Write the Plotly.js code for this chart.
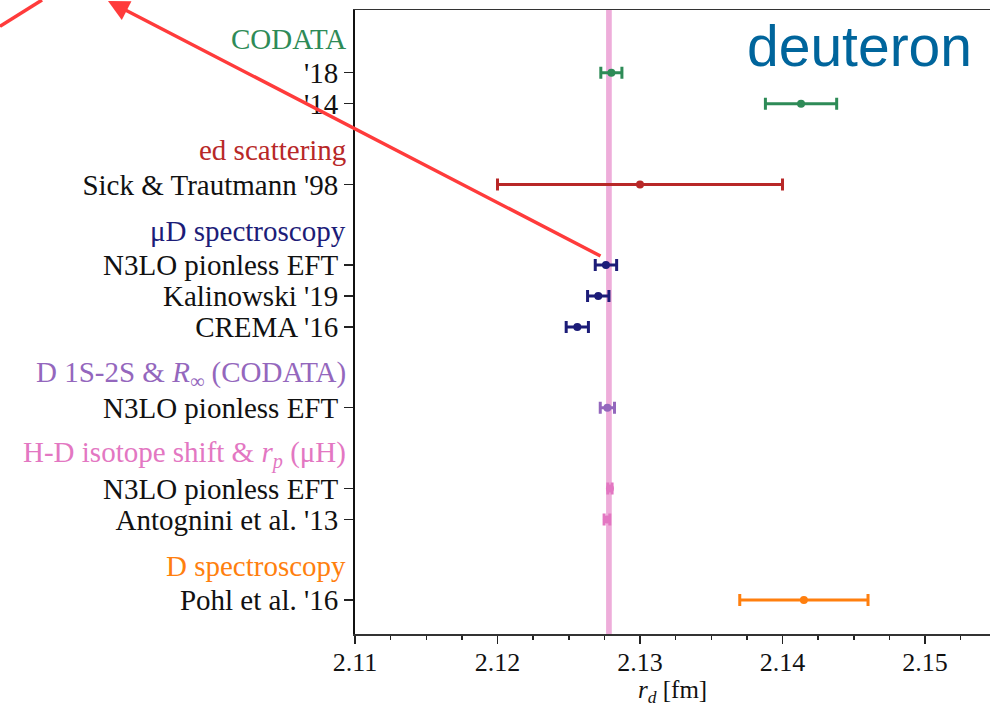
<!DOCTYPE html>
<html>
<head>
<meta charset="utf-8">
<script src="https://cdn.plot.ly/plotly-3.0.1.min.js"></script>
<style>html,body{margin:0;padding:0;background:#fff;}#chart{width:990px;height:706px;}</style>
</head>
<body>
<div id="chart"></div>
<script>
// ---- data ----
const groupNames = [
  'CODATA',
  'ed scattering',
  'μD spectroscopy',
  'D 1S-2S &amp; <i>R</i><sub>∞</sub> (CODATA)',
  'H-D isotope shift &amp; <i>r</i><sub><i>p</i></sub> (μH)',
  'D spectroscopy'
];
const groupColors = ['#2e8b57', '#b82828', '#1c1c78', '#9467bd', '#e377c2', '#ff7f0e'];
const labels = ["'18", "'14", "Sick &amp; Trautmann '98", "N3LO pionless EFT", "Kalinowski '19", "CREMA '16",
                "N3LO pionless EFT", "N3LO pionless EFT", "Antognini et al. '13", "Pohl et al. '16"];
const groupOf = [0, 0, 1, 2, 2, 2, 3, 4, 4, 5];
const rd    = [2.12799, 2.1413, 2.1300, 2.12761, 2.12707, 2.1256, 2.12771, 2.12789, 2.12768, 2.1415];
const rdErr = [0.00074, 0.0025, 0.0100, 0.00075, 0.00075, 0.00078, 0.0005, 0.00015, 0.0002, 0.0045];
const refValue = 2.12782;   // pink band (H-D isotope shift)
const refErr = 0.0002;
const xTickVals = [2.11, 2.12, 2.13, 2.14, 2.15];
const xTitle = '<i>r</i><sub><i>d</i></sub> [fm]';

// ---- row layout (header row, then items, gap between groups) ----
const headerY = [];
const itemY = new Array(labels.length);
let u = 0;
for (let g = 0; g < groupNames.length; g++) {
  headerY.push(u); u += 1;
  for (let i = 0; i < labels.length; i++) {
    if (groupOf[i] === g) { itemY[i] = u; u += 1; }
  }
  u += 0.6;
}

const traces = groupNames.map((name, g) => {
  const idx = labels.map((_, i) => i).filter(i => groupOf[i] === g);
  return {
    type: 'scatter', mode: 'markers',
    x: idx.map(i => rd[i]), y: idx.map(i => itemY[i]),
    marker: {color: groupColors[g], size: 8},
    error_x: {type: 'data', array: idx.map(i => rdErr[i]), visible: true,
              color: groupColors[g], thickness: 3, width: 6},
    showlegend: false, hoverinfo: 'x'
  };
});

const serif = 'Liberation Serif, Times New Roman, serif';
const annotations = groupNames.map((name, g) => ({
  xref: 'paper', yref: 'y', x: 0, y: headerY[g], xanchor: 'right', yanchor: 'middle',
  xshift: -7, yshift: 3, text: name, showarrow: false,
  font: {family: serif, size: 29, color: groupColors[g]}
}));
annotations.push({
  xref: 'paper', yref: 'paper', x: 0.975, y: 0.943, xanchor: 'right', yanchor: 'middle',
  text: 'deuteron', showarrow: false,
  font: {family: 'Liberation Sans, Arial, sans-serif', size: 57, color: '#00659c'}
});
annotations.push({
  xref: 'paper', yref: 'paper', x: 0.5, y: -0.0925, xanchor: 'center', yanchor: 'middle',
  text: xTitle, showarrow: false, borderpad: 0,
  font: {family: serif, size: 25, color: '#111'}
});
annotations.push({
  xref: 'paper', yref: 'paper', x: -0.389, y: 1.0256, text: '', showarrow: true,
  axref: 'pixel', ayref: 'pixel', ax: 494, ay: 262.7,
  arrowcolor: '#ff3b3b', arrowwidth: 3.5, arrowhead: 2, arrowsize: 1.2
});

const layout = {
  width: 990, height: 706,
  margin: {l: 355, r: 0, t: 10, b: 72},
  paper_bgcolor: '#fff', plot_bgcolor: '#fff',
  font: {family: serif, size: 28, color: '#111'},
  xaxis: {
    range: [2.11, 2.15456], tickvals: xTickVals, ticktext: xTickVals.map(v => v.toFixed(2)),
    ticks: 'outside', ticklen: 8, tickwidth: 1.5, tickcolor: '#222', ticklabelstandoff: -4,
    minor: {dtick: 0.0025, ticks: 'outside', ticklen: 4, tickwidth: 1.5, tickcolor: '#222', showgrid: false},
    showline: true, linecolor: '#333', linewidth: 1.5, mirror: true,
    showgrid: false, zeroline: false,
    tickfont: {family: serif, size: 26, color: '#111'}
  },
  yaxis: {
    range: [19.094, -1.022], tickvals: itemY, ticktext: labels,
    ticks: 'outside', ticklen: 9, tickwidth: 1.5, tickcolor: '#222',
    showline: true, linecolor: '#111', linewidth: 2, mirror: false,
    showgrid: false, zeroline: false,
    tickfont: {family: serif, size: 29, color: '#111'}
  },
  shapes: [
    {type: 'rect', xref: 'x', yref: 'paper', x0: refValue - refErr, x1: refValue + refErr, y0: 0, y1: 1,
     fillcolor: 'rgba(227,119,194,0.6)', line: {width: 0}, layer: 'below'},
    {type: 'line', xref: 'paper', yref: 'paper', x0: -0.559, y0: 0.974, x1: -0.4929, y1: 1.016,
     line: {color: '#ff3b3b', width: 3.5}}
  ],
  annotations: annotations
};

Plotly.newPlot('chart', traces, layout, {staticPlot: true, displayModeBar: false});
</script>
</body>
</html>
